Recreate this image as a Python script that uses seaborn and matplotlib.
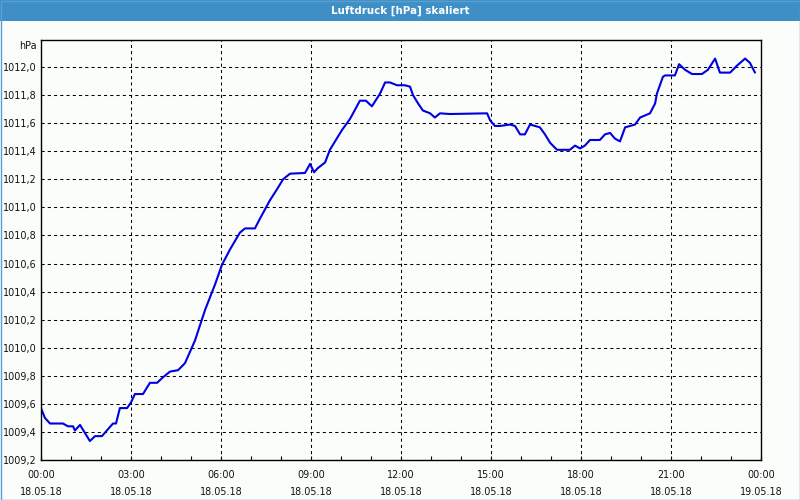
import matplotlib
matplotlib.use("Agg")
import matplotlib.pyplot as plt
import matplotlib.patches as mpatches
import seaborn as sns
import pandas as pd

# time in hours since 18.05.18 00:00
hours = [0.0, 0.13, 0.30, 0.73, 0.90, 1.07, 1.13, 1.30, 1.63, 1.80, 2.03, 2.40, 2.50, 2.63,
         2.87, 3.00, 3.13, 3.40, 3.63, 3.87, 4.07, 4.30, 4.57, 4.80, 5.13, 5.47, 5.80, 6.03,
         6.30, 6.63, 6.80, 7.13, 7.30, 7.63, 7.87, 8.07, 8.30, 8.80, 8.97, 9.10, 9.23, 9.47,
         9.63, 10.03, 10.30, 10.63, 10.83, 11.03, 11.30, 11.47, 11.63, 11.87, 12.13, 12.30,
         12.40, 12.57, 12.73, 12.97, 13.13, 13.30, 13.63, 14.87, 14.97, 15.13, 15.30, 15.63,
         15.80, 15.97, 16.13, 16.30, 16.47, 16.63, 16.80, 16.97, 17.20, 17.63, 17.80, 17.97,
         18.13, 18.30, 18.63, 18.80, 18.97, 19.13, 19.30, 19.47, 19.80, 19.97, 20.30, 20.47,
         20.53, 20.63, 20.73, 20.80, 21.13, 21.27, 21.47, 21.70, 22.03, 22.23, 22.47, 22.63,
         22.97, 23.20, 23.47, 23.63, 23.80]
pressure = [1009.57, 1009.50, 1009.46, 1009.46, 1009.44, 1009.44, 1009.41, 1009.45, 1009.335,
            1009.37, 1009.37, 1009.46, 1009.46, 1009.57, 1009.57, 1009.61, 1009.67, 1009.67,
            1009.75, 1009.75, 1009.79, 1009.83, 1009.84, 1009.89, 1010.05, 1010.27, 1010.45,
            1010.59, 1010.70, 1010.82, 1010.85, 1010.85, 1010.92, 1011.05, 1011.13, 1011.20,
            1011.24, 1011.245, 1011.31, 1011.25, 1011.28, 1011.32, 1011.41, 1011.55, 1011.63,
            1011.76, 1011.76, 1011.72, 1011.81, 1011.89, 1011.89, 1011.87, 1011.87, 1011.86,
            1011.80, 1011.74, 1011.69, 1011.67, 1011.64, 1011.67, 1011.665, 1011.67, 1011.62,
            1011.58, 1011.58, 1011.59, 1011.58, 1011.52, 1011.52, 1011.59, 1011.58, 1011.57,
            1011.52, 1011.46, 1011.41, 1011.41, 1011.44, 1011.42, 1011.44, 1011.48, 1011.48,
            1011.52, 1011.53, 1011.49, 1011.47, 1011.57, 1011.59, 1011.64, 1011.67, 1011.74,
            1011.81, 1011.87, 1011.93, 1011.94, 1011.94, 1012.02, 1011.98, 1011.95, 1011.95,
            1011.98, 1012.06, 1011.96, 1011.96, 1012.01, 1012.06, 1012.03, 1011.96]

x_ticks = [0, 3, 6, 9, 12, 15, 18, 21, 24]
x_labels = ["00:00\n18.05.18", "03:00\n18.05.18", "06:00\n18.05.18", "09:00\n18.05.18",
            "12:00\n18.05.18", "15:00\n18.05.18", "18:00\n18.05.18", "21:00\n18.05.18",
            "00:00\n19.05.18"]
y_ticks = [1009.2, 1009.4, 1009.6, 1009.8, 1010.0, 1010.2, 1010.4, 1010.6, 1010.8,
           1011.0, 1011.2, 1011.4, 1011.6, 1011.8, 1012.0]
title = "Luftdruck [hPa] skaliert"
unit = "hPa"

sns.set_style("white")
plt.rcParams['font.family'] = ['DejaVu Sans']

bg = "#fbfdfb"
fig = plt.figure(figsize=(8, 5), dpi=100, facecolor=bg)
ax = fig.add_axes([41/800, 40/500, 720/800, 420/500])
ax.set_facecolor(bg)

df = pd.DataFrame({"t": hours, "p": pressure})
sns.lineplot(data=df, x="t", y="p", ax=ax, color="#0000e0", linewidth=1.5)

ax.set_xlim(0, 24)
ax.set_ylim(1009.2, 1012.0 + 27/28.07*0.2)
ax.set_xticks(x_ticks)
ax.set_xticklabels(x_labels, fontsize=6.9, color="#111111", linespacing=1.9)
ax.set_xticks(range(25), minor=True)
ax.set_yticks(y_ticks)
ax.set_yticklabels([f"{v:.1f}".replace(".", ",") for v in y_ticks], fontsize=6.9, color="#111111")
ax.tick_params(axis="x", which="both", direction="in", length=3, width=0.8, color="black", pad=7, bottom=True)
ax.tick_params(axis="y", which="both", length=0, pad=3)
ax.set_xlabel("")
ax.set_ylabel("")
ax.grid(True, which="major", color="black", linestyle=(0, (3, 3)), linewidth=0.75)
for s in ax.spines.values():
    s.set_visible(True)
    s.set_color("black")
    s.set_linewidth(1.0)

# title bar
fig.patches.append(mpatches.Rectangle((0, 1 - 21/500), 1, 21/500, transform=fig.transFigure,
                                      facecolor="#3d8fc6", edgecolor="none", zorder=0))
fig.text(0.5, 1 - 10.5/500, title, ha="center", va="center", color="white",
         fontsize=7.4, fontweight="bold")
fig.text(37/800, 1 - 46/500, unit, ha="right", va="center", fontsize=6.9, color="#111111")
# border
fig.patches.append(mpatches.Rectangle((0.5/800, 0.5/500), 1 - 1/800, 1 - 1/500, transform=fig.transFigure,
                                      facecolor="none", edgecolor="#5a9fd0", linewidth=1.0, zorder=5))

fig.savefig("out.png", dpi=100, facecolor=bg)
